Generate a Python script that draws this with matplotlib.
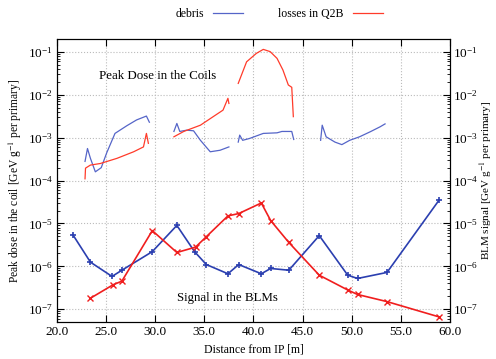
import matplotlib.pyplot as plt
import numpy as np
from matplotlib.ticker import LogLocator, NullFormatter, FixedLocator

plt.rcParams['font.family'] = ['Liberation Serif', 'DejaVu Serif']
plt.rcParams['mathtext.fontset'] = 'stix'

# peak dose in the coils, debris (blue), in segments
deb_x = [[22.85, 23.1, 23.4, 23.9, 24.5, 25.05, 25.9, 27.1, 28.1, 29.1, 29.4],
         [31.9, 32.2, 32.5, 33.2, 33.9, 34.6, 35.6, 36.6, 37.5],
         [38.45, 38.6, 38.9, 39.6, 41.0, 42.4, 42.9, 43.9, 44.1],
         [46.84, 47.0, 47.4, 48.3, 49.0, 49.8, 50.8, 51.9, 52.9, 53.4]]
deb_y = [[2.8e-4, 5.6e-4, 3.3e-4, 1.6e-4, 2.0e-4, 4.4e-4, 1.26e-3, 1.9e-3, 2.6e-3, 3.2e-3, 2.3e-3],
         [1.4e-3, 2.15e-3, 1.4e-3, 1.5e-3, 1.45e-3, 8.7e-4, 4.7e-4, 5.1e-4, 6.1e-4],
         [7.9e-4, 1.15e-3, 8.7e-4, 9.6e-4, 1.26e-3, 1.3e-3, 1.4e-3, 1.4e-3, 9.1e-4],
         [8.7e-4, 1.96e-3, 1.05e-3, 7.9e-4, 6.9e-4, 8.7e-4, 1.05e-3, 1.38e-3, 1.8e-3, 2.1e-3]]

# peak dose in the coils, losses in Q2B (red)
q2b_x = [[22.85, 22.9, 23.4, 24.4, 26.1, 27.8, 28.8, 29.1, 29.3],
         [31.9, 32.9, 34.6, 35.9, 36.9, 37.4, 37.5],
         [38.45, 39.3, 40.3, 41.0, 41.7, 42.4, 43.0, 43.55, 43.9, 44.06]]
q2b_y = [[1.1e-4, 1.95e-4, 2.3e-4, 2.5e-4, 3.3e-4, 4.7e-4, 6.1e-4, 1.26e-3, 7.4e-4],
         [1.05e-3, 1.4e-3, 1.96e-3, 3.1e-3, 4.4e-3, 8.3e-3, 6.3e-3],
         [1.85e-2, 5.9e-2, 9.3e-2, 0.115, 0.102, 0.071, 0.038, 0.017, 0.015, 3.1e-3]]

# BLM signals
blm_deb_x = [21.6, 23.4, 25.6, 26.6, 29.7, 32.2, 34.0, 35.2, 37.4, 38.5, 40.8, 41.75, 43.6,
             46.7, 49.6, 50.6, 53.6, 58.9]
blm_deb_y = [5.5e-6, 1.25e-6, 5.8e-7, 8.1e-7, 2.2e-6, 9.0e-6, 2.2e-6, 1.1e-6, 6.7e-7, 1.1e-6,
             6.7e-7, 8.9e-7, 8.1e-7, 5.2e-6, 6.2e-7, 5.2e-7, 7.2e-7, 3.5e-5]
blm_q2b_x = [23.4, 25.7, 26.6, 29.7, 32.2, 34.1, 35.2, 37.4, 38.5, 40.8, 41.75, 43.6,
             46.7, 49.6, 50.6, 53.6, 58.9]
blm_q2b_y = [1.8e-7, 3.7e-7, 4.5e-7, 6.8e-6, 2.1e-6, 2.8e-6, 4.9e-6, 1.5e-5, 1.7e-5, 3.0e-5,
             1.17e-5, 3.6e-6, 6.2e-7, 2.8e-7, 2.2e-7, 1.5e-7, 6.6e-8]

xticks = [20, 25, 30, 35, 40, 45, 50, 55, 60]
decades = [1e-7, 1e-6, 1e-5, 1e-4, 1e-3, 1e-2, 1e-1]

fig = plt.figure(figsize=(4.96, 3.59), dpi=100)
ax = fig.add_axes([0.115, 0.103, 0.792, 0.788])

c_blue = '#5565c8'
c_red = '#ff3b2a'
for i, (xs, ys) in enumerate(zip(deb_x, deb_y)):
    ax.plot(xs, ys, color=c_blue, lw=0.9, label='debris' if i == 0 else None)
for i, (xs, ys) in enumerate(zip(q2b_x, q2b_y)):
    ax.plot(xs, ys, color=c_red, lw=0.9, label='losses in Q2B' if i == 0 else None)

ax.plot(blm_deb_x, blm_deb_y, color='#2b3fb0', lw=1.2, marker='+', ms=5, mew=1.2)
ax.plot(blm_q2b_x, blm_q2b_y, color='#f01e1e', lw=1.2, marker='x', ms=4, mew=1.0)


def style_log(a):
    a.set_yscale('log')
    a.set_ylim(10 ** -7.3, 10 ** -0.7)
    a.yaxis.set_major_locator(FixedLocator(decades))
    a.yaxis.set_minor_locator(LogLocator(base=10, subs=np.arange(2, 10), numticks=20))
    a.yaxis.set_minor_formatter(NullFormatter())
    a.tick_params(direction='in', which='both', labelsize=9.5, pad=3)
    a.tick_params(which='major', length=5)
    a.tick_params(which='minor', length=2.5)


style_log(ax)
ax.set_xlim(20, 60)
ax.set_xticks(xticks)
ax.set_xticklabels(['%.1f' % v for v in xticks])
ax.grid(True, which='major', color='#bbbbbb', ls=':', lw=0.8)
ax.tick_params(top=True)

ax.set_xlabel('Distance from IP [m]', fontsize=8.5, labelpad=4)
ax.set_ylabel('Peak dose in the coil [GeV g$^{-1}$ per primary]', fontsize=8.3, labelpad=3)

ax2 = ax.twinx()
style_log(ax2)
ax2.tick_params(axis='y', pad=2)
ax2.set_ylabel('BLM signal [GeV g$^{-1}$ per primary]', fontsize=8, labelpad=0)

ax.text(30.2, 10 ** -1.55, 'Peak Dose in the Coils', fontsize=9.3, ha='center', va='center')
ax.text(37.3, 10 ** -6.75, 'Signal in the BLMs', fontsize=9.3, ha='center', va='center')

fig.legend(loc='center', bbox_to_anchor=(0.5625, 0.961), ncol=2, frameon=False,
           markerfirst=False, fontsize=8.5, handlelength=2.5, columnspacing=3.0,
           borderaxespad=0)

fig.savefig('out.png', dpi=100)
